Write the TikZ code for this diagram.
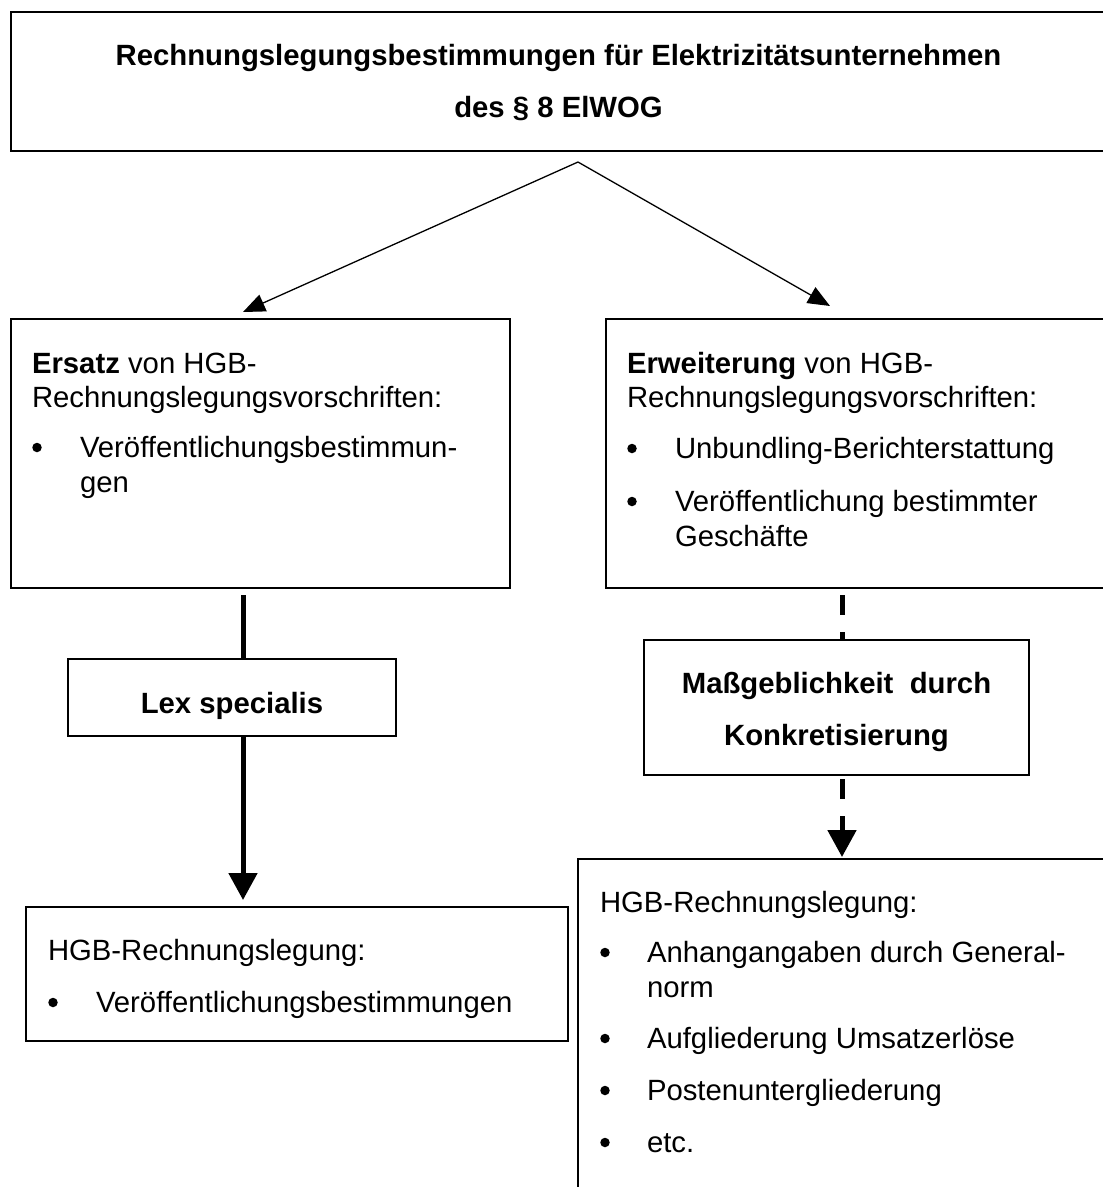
\documentclass[tikz,border=0pt]{standalone}
\usepackage{fontspec}
\setmainfont{Liberation Sans}
\usetikzlibrary{arrows.meta}
\begin{document}
\begin{tikzpicture}[x=1pt,y=-1pt,
  every node/.style={inner sep=0pt, outer sep=0pt},
  frame/.style={draw, line width=2pt, fill=white},
  txt/.style={anchor=base west, font=\fontsize{29.3}{35}\selectfont},
  ctxt/.style={anchor=base, font=\fontsize{29.3}{35}\selectfont\bfseries},
  dot/.style={circle, fill=black, minimum size=9.5pt},
  thinarrow/.style={line width=1.3pt, -{Triangle[length=22pt,width=18pt]}},
  thicklink/.style={line width=5pt},
  bigtip/.style={-{Triangle[length=27pt,width=28pt]}},
  dashlink/.style={line width=5pt, dash pattern=on 20pt off 17pt}
]
\clip (0,0) rectangle (1103,1187);
\fill[white] (0,0) rectangle (1103,1187);

% boxes
\node[frame, minimum width=1095pt, minimum height=139pt] (top) at (558.5,81.5) {};
\node[frame, minimum width=499pt, minimum height=269pt] (ersatz) at (260.5,453.5) {};
\node[frame, minimum width=504pt, minimum height=269pt] (erw) at (858,453.5) {};
\node[frame, minimum width=328pt, minimum height=77pt] (lex) at (232,697.5) {};
\node[frame, minimum width=385pt, minimum height=135pt] (mass) at (836.5,707.5) {};
\node[frame, minimum width=542pt, minimum height=134pt] (hgbl) at (297,974) {};
\node[frame, minimum width=532pt, minimum height=341pt] (hgbr) at (844,1029.5) {};

% connector end points
\coordinate (apex) at (578,162);
\coordinate (tipL) at (243,312);
\coordinate (tipR) at (830,306);
\coordinate (startL) at (243,595);
\coordinate (tipLex) at (243,900);
\coordinate (startR) at (842,595);
\coordinate (restartR) at (842,779);
\coordinate (tipMass) at (842,857);

% connectors
\draw[thinarrow] (apex) -- (tipL);
\draw[thinarrow] (apex) -- (tipR);
\draw[thicklink] (startL) -- (startL |- lex.north);
\draw[thicklink, bigtip] (startL |- lex.south) -- (tipLex);
\draw[dashlink] (startR) -- (startR |- mass.north);
\draw[dashlink, bigtip] (restartR) -- (tipMass);

% texts
\node[ctxt] (t1) at (558.5,65) {Rechnungslegungsbestimmungen für Elektrizitätsunternehmen};
\node[ctxt] (t2) at (558.5,117) {des § 8 ElWOG};

\node[txt] (e1) at (32,373) {\textbf{Ersatz} von HGB-};
\node[txt] (e2) at (32,407) {Rechnungslegungsvorschriften:};
\node[dot] (eb1) at (37,447.5) {};
\node[txt] (e3) at (80,457) {Veröffentlichungsbestimmun-};
\node[txt] (e4) at (80,492) {gen};

\node[txt] (w1) at (627,373) {\textbf{Erweiterung} von HGB-};
\node[txt] (w2) at (627,407) {Rechnungslegungsvorschriften:};
\node[dot] (wb1) at (632,448.5) {};
\node[txt] (w3) at (675,458) {Unbundling-Berichterstattung};
\node[dot] (wb2) at (632,501.5) {};
\node[txt] (w4) at (675,511) {Veröffentlichung bestimmter};
\node[txt] (w5) at (675,546) {Geschäfte};

\node[ctxt] (lx) at (232,713) {Lex specialis};
\node[ctxt] (m1) at (836.5,693) {Maßgeblichkeit\ \ durch};
\node[ctxt] (m2) at (836.5,745) {Konkretisierung};

\node[txt] (l1) at (48,960) {HGB-Rechnungslegung:};
\node[dot] (lb1) at (53,1002.5) {};
\node[txt] (l2) at (96,1012) {Veröffentlichungsbestimmungen};

\node[txt] (r1) at (600,912) {HGB-Rechnungslegung:};
\node[dot] (rb1) at (605,952.5) {};
\node[txt] (r2) at (647,962) {Anhangangaben durch General-};
\node[txt] (r3) at (647,997) {norm};
\node[dot] (rb2) at (605,1038.5) {};
\node[txt] (r4) at (647,1048) {Aufgliederung Umsatzerlöse};
\node[dot] (rb3) at (605,1090.5) {};
\node[txt] (r5) at (647,1100) {Postenuntergliederung};
\node[dot] (rb4) at (605,1142.5) {};
\node[txt] (r6) at (647,1152) {etc.};
\end{tikzpicture}
\end{document}
